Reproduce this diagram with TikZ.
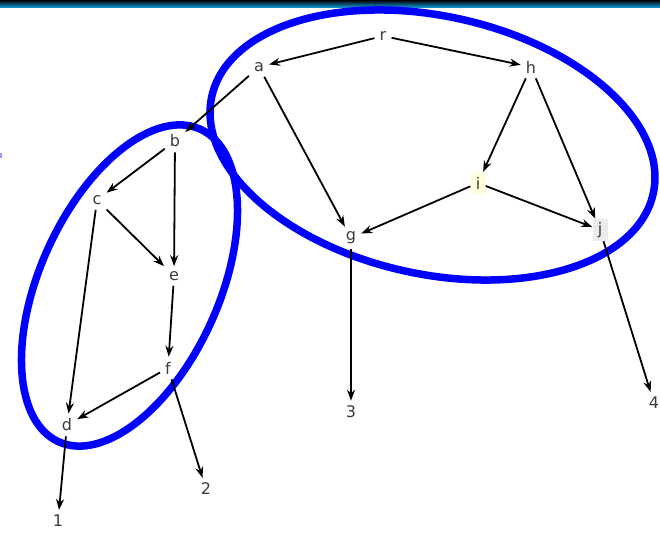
\documentclass[tikz,border=0pt]{standalone}
\usepackage{fontspec}
\setmainfont{DejaVu Sans}
\usetikzlibrary{arrows.meta}
\definecolor{hdrtop}{RGB}{0,0,0}
\definecolor{hdrbot}{RGB}{20,165,230}
\definecolor{txt}{RGB}{60,60,60}
\definecolor{ringblue}{RGB}{0,0,255}
\definecolor{ihl}{RGB}{255,255,224}
\definecolor{jhl}{RGB}{236,236,236}
\tikzset{
  lbl/.style={font=\fontsize{16}{17}\selectfont, text=txt, inner sep=5pt},
  hl/.style={lbl, minimum width=15pt, minimum height=22pt, inner sep=2pt},
  edge/.style={draw=black, line width=1.8pt, -{Stealth[length=11pt,width=8pt]}},
  ring/.style={draw=ringblue, line width=7.5pt}
}
\begin{document}
\begin{tikzpicture}[x=1pt,y=-1pt]
\useasboundingbox (0,0) rectangle (660,532);
\fill[white] (0,0) rectangle (660,532);
\shade[top color=hdrtop, bottom color=hdrbot] (0,0) rectangle (660,8);
\fill[ringblue!40] (0,153) rectangle (2,158);

% nodes
\node[lbl] (r) at (383,36) {r};
\node[lbl] (a) at (259,67) {a};
\node[lbl] (h) at (531,67) {h};
\node[lbl] (b) at (175,141) {b};
\node[lbl] (c) at (97,200) {c};
\node[hl, fill=ihl] (i) at (478,183) {i};
\node[lbl] (g) at (351,238) {g};
\node[hl, fill=jhl] (j) at (600,230) {j};
\node[lbl] (e) at (174,276) {e};
\node[lbl] (f) at (168,368) {f};
\node[lbl] (d) at (67,425) {d};
\node[lbl] (n1) at (58,521) {1};
\node[lbl] (n2) at (206,489) {2};
\node[lbl] (n3) at (351,412) {3};
\node[lbl] (n4) at (654,403) {4};

% rings
\draw[ring, shift={(432.5,145)}, rotate=-12.4] (0,0) ellipse [x radius=226pt, y radius=129pt];
\draw[ring, shift={(129.5,285.5)}, rotate=65.6] (0,0) ellipse [x radius=171.6pt, y radius=89.5pt];

% edges
\draw[edge] (r) -- (a);
\draw[edge] (r) -- (h);
\draw[edge] (a) -- (b);
\draw[edge] (a) -- (g);
\draw[edge] (h) -- (i);
\draw[edge] (h) -- (j);
\draw[edge] (i) -- (g);
\draw[edge] (i) -- (j);
\draw[edge] (b) -- (c);
\draw[edge] (b) -- (e);
\draw[edge] (c) -- (e);
\draw[edge] (c) -- (d);
\draw[edge] (e) -- (f);
\draw[edge] (f) -- (d);
\draw[edge] (f) -- (n2);
\draw[edge] (d) -- (n1);
\draw[edge] (g) -- (n3);
\draw[edge] (j) -- (n4);
\end{tikzpicture}
\end{document}
